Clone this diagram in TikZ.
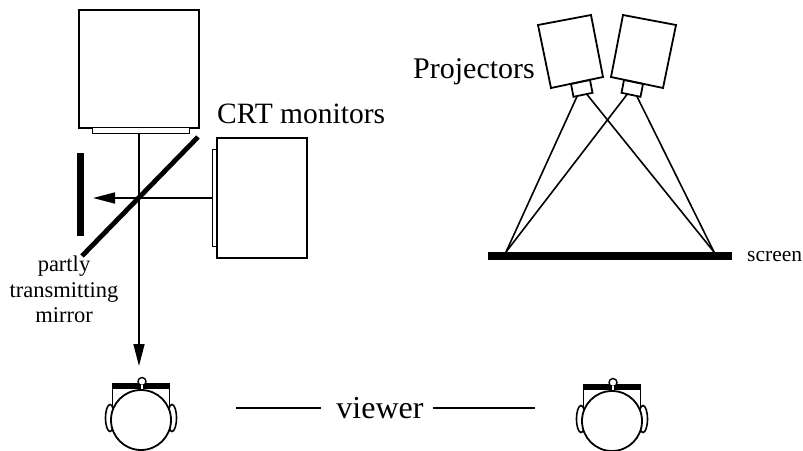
\documentclass[tikz,border=0pt]{standalone}
\usepackage{fontspec}
\setmainfont{Liberation Serif}
\usetikzlibrary{arrows.meta}

\tikzset{
  box/.style={draw, line width=1.8pt, fill=white, inner sep=0pt, anchor=north west},
  ray/.style={line width=1.6pt},
  beam/.style={ray, -{Triangle[length=22pt, width=11pt]}},
  lbl/.style={inner sep=0pt, text=black},
  pics/head/.style={code={
    % ears, then the skull over them
    \draw[line width=1.6pt, fill=white] (-31,-2) ellipse [x radius=4.5, y radius=13.5];
    \draw[line width=1.6pt, fill=white] ( 31,-2) ellipse [x radius=4.5, y radius=13.5];
    % side pieces of the glasses
    \draw[line width=1.4pt] (-28.5,-34) -- (-28.5,-9);
    \draw[line width=1.4pt] ( 28.5,-34) -- ( 28.5,-9);
    \draw[line width=1.8pt, fill=white] (0,0) circle [radius=30];
    % shutter-glasses bar with its small knob
    \fill (-29,-37) rectangle (29,-31.5);
    \draw[line width=1.4pt, fill=white] (1,-38.5) circle [radius=4];
    \draw[white, line width=1.6pt] (1,-35) -- (1,-31.5);
  }}
}

\begin{document}
\begin{tikzpicture}[x=1pt, y=-1pt]
  \useasboundingbox (0,0) rectangle (803,450);

  % ---------- CRT set-up with the half-silvered mirror ----------
  \node[box, minimum width=120pt, minimum height=118pt] (crtTop) at (78,9) {};
  \node[box, minimum width=97pt, minimum height=6pt, line width=1.4pt] (crtTopFace) at (92,127) {};
  \node[box, minimum width=90pt, minimum height=120pt] (crtSide) at (216,137) {};
  \node[box, minimum width=4.5pt, minimum height=97pt, line width=1.4pt] (crtSideFace) at (211.5,149) {};

  \node[fill=black, inner sep=0pt, minimum width=7pt, minimum height=83pt, anchor=north west] (blackBar) at (77,153) {};

  \coordinate (mirrorTop) at (198,137);
  \coordinate (mirrorEnd) at (82,256);
  \coordinate (eyeTip) at (139,366);
  \coordinate (barTip) at (93,198);

  \draw[beam] (crtTopFace.south -| eyeTip) -- (eyeTip);
  \draw[beam] (crtSideFace.west |- barTip) -- (barTip);
  \draw[line width=4.8pt] (mirrorTop) -- (mirrorEnd);

  \node[lbl, font=\fontsize{29.5}{32}\selectfont, anchor=base west] (crtLabel) at (217,123) {CRT monitors};
  \node[lbl, font=\fontsize{22.5}{25.5}\selectfont, align=center, anchor=north] (mirrorLabel) at (64,256)
    {partly\\transmitting\\mirror};

  % ---------- projection set-up ----------
  \draw[line width=1.8pt, fill=white] (538,25) -- (591,15) -- (603,77) -- (551,88) -- cycle;
  \draw[line width=1.8pt, fill=white] (571,84) -- (590,80) -- (592.5,92.8) -- (573.5,96.8) -- cycle;
  \draw[line width=1.8pt, fill=white] (676,25) -- (623,15) -- (611,77) -- (663,88) -- cycle;
  \draw[line width=1.8pt, fill=white] (643,84) -- (624,80) -- (621.5,92.8) -- (640.5,96.8) -- cycle;

  \node[fill=black, inner sep=0pt, minimum width=244pt, minimum height=7.5pt, anchor=north west] (screen) at (488,252) {};
  \coordinate (sL) at (506,252);
  \coordinate (sR) at (714,252);
  \coordinate (p1a) at (577,96.5);
  \coordinate (p1b) at (587,94.5);
  \coordinate (p2a) at (627,94.5);
  \coordinate (p2b) at (637,96.5);
  \draw[ray] (p1a) -- (sL);
  \draw[ray] (p1b) -- (sR);
  \draw[ray] (p2a) -- (sL);
  \draw[ray] (p2b) -- (sR);

  \node[lbl, font=\fontsize{30}{32}\selectfont, anchor=base west] (projLabel) at (413,78) {Projectors};
  \node[lbl, font=\fontsize{21.5}{24}\selectfont, anchor=base west] (screenLabel) at (747,261) {screen};

  % ---------- viewers ----------
  \pic at (141,420) {head};
  \pic at (612,421) {head};

  \node[lbl, font=\fontsize{32}{34}\selectfont, anchor=base] (viewer) at (380,418) {viewer};
  \coordinate (vL) at (236,408);
  \coordinate (vR) at (535,408);
  \draw[line width=1.5pt] (vL) -- ([xshift=-15pt]viewer.west |- vL);
  \draw[line width=1.5pt] ([xshift=9pt]viewer.east |- vR) -- (vR);
\end{tikzpicture}
\end{document}
